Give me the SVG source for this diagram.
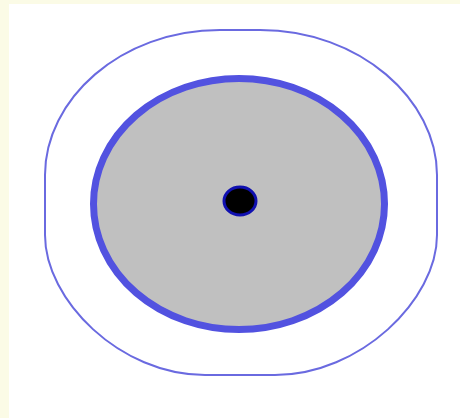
<svg xmlns="http://www.w3.org/2000/svg" width="460" height="418" viewBox="0 0 460 418">
<style>
.outer{fill:none;stroke:#6a6ae0;stroke-width:2}
.inner{fill:#c0c0c0;stroke:#5252e0;stroke-width:7}
.dot{fill:#000;stroke:#1010b0;stroke-width:3}
</style>
<rect x="0" y="0" width="460" height="418" fill="#fbfbe6"/>
<rect x="9" y="4" width="451" height="414" fill="#ffffff"/>
<g id="outer">
<path class="outer" d="M220,30 L260,30 C360,30 437,100 437,175 L437,235 C437,300 360,375 275,375 L205,375 C120,375 45,300 45,235 L45,175 C45,100 120,30 220,30 Z"/>
</g>
<g id="inner">
<ellipse class="inner" cx="239" cy="204" rx="145.5" ry="125.5"/>
</g>
<g id="dot">
<ellipse class="dot" cx="240" cy="201" rx="16" ry="14"/>
</g>
<g id="connectors"></g>
</svg>
